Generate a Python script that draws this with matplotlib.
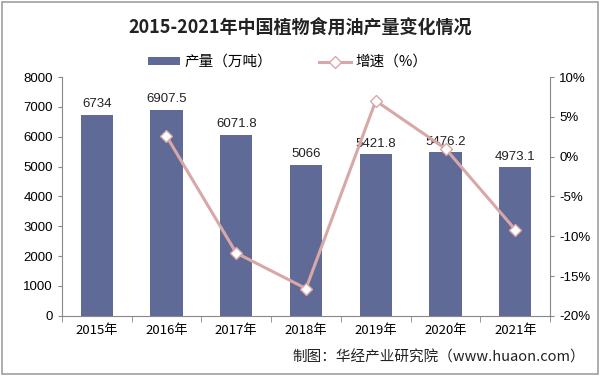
import matplotlib.pyplot as plt
import numpy as np
from matplotlib.patches import Rectangle
from matplotlib.ticker import FuncFormatter

plt.rcParams['font.family'] = ['Noto Sans CJK SC', 'DejaVu Sans']

years = ['2015年', '2016年', '2017年', '2018年', '2019年', '2020年', '2021年']
output = [6734, 6907.5, 6071.8, 5066, 5421.8, 5476.2, 4973.1]
labels = ['6734', '6907.5', '6071.8', '5066', '5421.8', '5476.2', '4973.1']
growth = [2.58, -12.10, -16.57, 7.02, 1.00, -9.18]

bar_color = '#5f6b96'
line_color = '#d8a8a8'

fig = plt.figure(figsize=(6, 3.76), dpi=100)
fig.patches.append(Rectangle((0.004, 0.004), 0.992, 0.992, transform=fig.transFigure,
                             fill=False, edgecolor='#a0a0a0', linewidth=1.2))

ax = fig.add_axes([0.103, 0.16, 0.814, 0.635])
x = np.arange(len(years))
ax.bar(x, output, width=0.46, color=bar_color, label='产量（万吨）', zorder=2)
for xi, v, t in zip(x, output, labels):
    ax.text(xi, v + 150, t, ha='center', va='bottom', fontsize=9.5, color='#222222',
            family='Liberation Sans')

ax.set_xlim(-0.5, len(years) - 0.5)
ax.set_ylim(0, 8000)
ax.set_yticks(np.arange(0, 8001, 1000))
ax.set_xticks(x)
ax.set_xticklabels(years, fontsize=9.5)
ax.set_xticks(np.arange(-0.5, len(years), 1), minor=True)
ax.tick_params(axis='x', which='major', length=0, pad=6)
ax.tick_params(axis='x', which='minor', length=4, color='#888888')
ax.tick_params(axis='y', labelsize=9.5, length=3, color='#888888')
for lab in ax.get_yticklabels():
    lab.set_family('Liberation Sans')
ax.spines['top'].set_visible(False)
ax.spines['right'].set_visible(False)
for s in ['left', 'bottom']:
    ax.spines[s].set_color('#888888')

ax2 = ax.twinx()
ax2.plot(x[1:], growth, color=line_color, linewidth=2.2, marker='D', markersize=6,
         markerfacecolor='white', markeredgecolor=line_color, label='增速（%）', zorder=3)
ax2.set_ylim(-20, 10)
ax2.set_yticks(np.arange(-20, 11, 5))
ax2.yaxis.set_major_formatter(FuncFormatter(lambda v, p: f'{v:.0f}%'))
ax2.tick_params(axis='y', labelsize=9.5, length=3, color='#888888')
for lab in ax2.get_yticklabels():
    lab.set_family('Liberation Sans')
for s in ['top', 'left', 'bottom']:
    ax2.spines[s].set_visible(False)
ax2.spines['right'].set_color('#888888')

fig.text(0.5, 0.928, '2015-2021年中国植物食用油产量变化情况', ha='center', va='center',
         fontsize=13, fontweight='bold', color='#222222')

h1, l1 = ax.get_legend_handles_labels()
h2, l2 = ax2.get_legend_handles_labels()
fig.legend(h1 + h2, l1 + l2, loc='center', bbox_to_anchor=(0.48, 0.835), ncol=2,
           frameon=False, fontsize=10.5, handlelength=2.2, columnspacing=3.2,
           handletextpad=0.3, handleheight=0.4)

fig.text(0.975, 0.05, '制图：华经产业研究院（www.huaon.com）', ha='right', va='center',
         fontsize=10.5, color='#222222')

fig.savefig('out.png', dpi=100)
